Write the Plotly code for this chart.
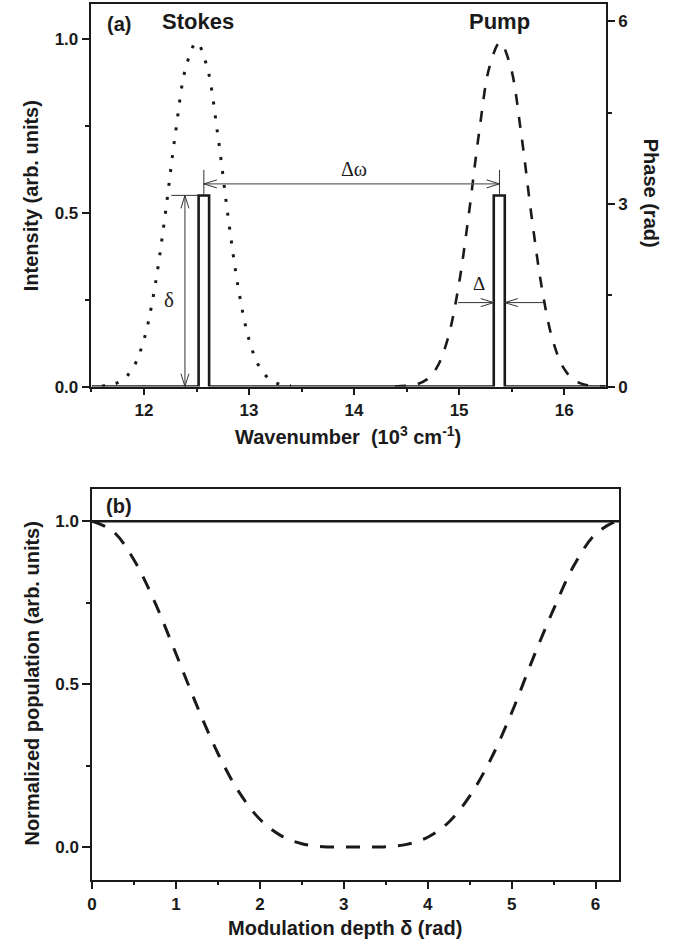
import plotly.graph_objects as go

# ---------------- data ----------------
# panel (a): spectral intensities (arb. units) vs wavenumber (10^3 cm^-1)
stokes_x = [11.6, 11.7, 11.8, 11.9, 12.0, 12.1, 12.2, 12.3, 12.4, 12.5,
            12.6, 12.7, 12.8, 12.9, 13.0, 13.1, 13.2, 13.3, 13.4]
stokes_y = [0.002, 0.006, 0.02, 0.056, 0.135, 0.28, 0.49, 0.73, 0.92, 0.99,
            0.92, 0.73, 0.49, 0.28, 0.135, 0.056, 0.02, 0.006, 0.002]

pump_x = [14.39, 14.49, 14.59, 14.69, 14.79, 14.89, 14.99, 15.09, 15.19, 15.29,
          15.39, 15.49, 15.59, 15.69, 15.79, 15.89, 15.99, 16.09, 16.19, 16.29, 16.39]
pump_y = [0.0, 0.002, 0.006, 0.02, 0.056, 0.135, 0.28, 0.49, 0.73, 0.92,
          0.99, 0.92, 0.73, 0.49, 0.28, 0.135, 0.056, 0.02, 0.006, 0.002, 0.0]

# phase mask (rad): two narrow windows of depth delta = pi
phase_x = [11.5, 12.52, 12.52, 12.62, 12.62, 15.33, 15.33, 15.435, 15.435, 16.4]
phase_y = [0.0, 0.0, 3.14, 3.14, 0.0, 0.0, 3.14, 3.14, 0.0, 0.0]

# panel (b): normalized population vs modulation depth
delta_x = [0.0, 0.25, 0.5, 0.75, 1.0, 1.25, 1.5, 1.75, 2.0, 2.25, 2.5, 2.75,
           3.0, 3.25, 3.5, 3.75, 4.0, 4.25, 4.5, 4.75, 5.0, 5.25, 5.5, 5.75,
           6.0, 6.25, 6.283]
pop_dashed = [1.0, 0.969, 0.881, 0.750, 0.593, 0.433, 0.287, 0.169, 0.085, 0.035,
              0.010, 0.001, 0.0, 0.0, 0.001, 0.008, 0.030, 0.076, 0.156, 0.269,
              0.412, 0.576, 0.730, 0.868, 0.961, 1.0, 1.0]
solid_x = [0.0, 6.283]
solid_y = [1.0, 1.0]

# tick labels
a_x_ticks = [12, 13, 14, 15, 16]
a_y_ticks = [0.0, 0.5, 1.0]
a_y_text = ["0.0", "0.5", "1.0"]
a_y2_ticks = [0, 3, 6]
b_x_ticks = [0, 1, 2, 3, 4, 5, 6]
b_y_ticks = [0.0, 0.5, 1.0]
b_y_text = ["0.0", "0.5", "1.0"]

# ---------------- styling ----------------
W, H = 681, 952
FONT = "Liberation Sans, Arial, Helvetica, sans-serif"
INK = "#1a1a1a"


def px(x):
    return x / W


def py(y):
    return 1 - y / H


fig = go.Figure()

fig.add_trace(go.Scatter(x=stokes_x, y=stokes_y, xaxis="x", yaxis="y", mode="lines",
                         line=dict(color=INK, width=3, dash="3px,11px", shape="spline"),
                         showlegend=False))
fig.add_trace(go.Scatter(x=pump_x, y=pump_y, xaxis="x", yaxis="y", mode="lines",
                         line=dict(color=INK, width=2.6, dash="11px,12px", shape="spline"),
                         showlegend=False))
fig.add_trace(go.Scatter(x=phase_x, y=phase_y, xaxis="x", yaxis="y2", mode="lines",
                         line=dict(color=INK, width=2.6), showlegend=False))
fig.add_trace(go.Scatter(x=solid_x, y=solid_y, xaxis="x2", yaxis="y3", mode="lines",
                         line=dict(color=INK, width=2.6), showlegend=False))
fig.add_trace(go.Scatter(x=delta_x, y=pop_dashed, xaxis="x2", yaxis="y3", mode="lines",
                         line=dict(color=INK, width=3, dash="14px,12px", shape="spline"),
                         showlegend=False))

tickfont = dict(family=FONT, size=17, color=INK, weight="bold")
base = dict(showline=True, linecolor=INK, linewidth=1.5, ticks="outside",
            tickcolor=INK, tickwidth=1.5, showgrid=False, zeroline=False,
            tickfont=tickfont)

A_DOM_X = [px(87.1), px(605.6)]
A_DOM_Y = [py(390.7), py(4.2)]
B_DOM_X = [px(87.7), px(618.9)]
B_DOM_Y = [py(888.9), py(493.8)]

fig.update_layout(
    width=W, height=H,
    margin=dict(l=0, r=0, t=0, b=0),
    paper_bgcolor="white", plot_bgcolor="white",
    font=dict(family=FONT, color=INK),
    showlegend=False,
    xaxis=dict(base, domain=A_DOM_X, range=[11.5, 16.4], anchor="y",
               tickmode="array", tickvals=a_x_ticks, ticklen=7, mirror=True,
               minor=dict(dtick=0.5, tick0=0, ticklen=4, ticks="outside",
                          tickcolor=INK, tickwidth=1.5)),
    yaxis=dict(base, domain=A_DOM_Y, range=[0, 1.1], anchor="x",
               tickmode="array", tickvals=a_y_ticks, ticktext=a_y_text, ticklen=8,
               minor=dict(dtick=0.25, tick0=0, ticklen=4.5, ticks="outside",
                          tickcolor=INK, tickwidth=1.5)),
    yaxis2=dict(base, overlaying="y", side="right", anchor="x", range=[0, 6.2832],
                tickmode="array", tickvals=a_y2_ticks, ticklen=7,
                minor=dict(dtick=1.5, tick0=0, ticklen=4, ticks="outside",
                           tickcolor=INK, tickwidth=1.5)),
    xaxis3=dict(overlaying="x", side="top", anchor="y", range=[11.5, 16.4],
                showline=False, showgrid=False, zeroline=False, ticks="outside",
                ticklen=3, tickwidth=1.2, tickcolor=INK, dtick=0.5, tick0=0,
                showticklabels=False),
    xaxis2=dict(base, domain=B_DOM_X, range=[0, 6.2832], anchor="y3",
                tickmode="array", tickvals=b_x_ticks, ticklen=8, mirror=True,
                minor=dict(dtick=0.5, tick0=0, ticklen=3.5, ticks="outside",
                           tickcolor=INK, tickwidth=1.5)),
    yaxis3=dict(base, domain=B_DOM_Y, range=[-0.1, 1.1], anchor="x2",
                tickmode="array", tickvals=b_y_ticks, ticktext=b_y_text, ticklen=8,
                mirror=True,
                minor=dict(dtick=0.25, tick0=0, ticklen=4.5, ticks="outside",
                           tickcolor=INK, tickwidth=1.5)),
    xaxis4=dict(overlaying="x2", side="top", anchor="y3", range=[0, 6.2832],
                showline=False, showgrid=False, zeroline=False, ticks="outside",
                ticklen=3, tickwidth=1.2, tickcolor=INK, dtick=0.5, tick0=0,
                showticklabels=False),
    yaxis4=dict(overlaying="y3", side="right", anchor="x2", range=[-0.1, 1.1],
                showline=False, showgrid=False, zeroline=False, ticks="outside",
                ticklen=3, tickwidth=1.2, tickcolor=INK, dtick=0.5, tick0=0,
                showticklabels=False),
)

# ---------------- text ----------------
def label(x, y, text, size, angle=0, bold=True, family=FONT, **kw):
    fig.add_annotation(x=x, y=y, text=text, showarrow=False, textangle=angle,
                       font=dict(family=family, size=size, color=INK,
                                 weight="bold" if bold else "normal"),
                       xanchor="center", yanchor="middle", **kw)


label(px(27), py(197.5), "Intensity (arb. units)", 20, -90, xref="paper", yref="paper")
label(px(651), py(195), "Phase (rad)", 20, 90, xref="paper", yref="paper")
label(px(346), py(440), "Wavenumber  (10<sup>3</sup> cm<sup>-1</sup>)", 20,
      xref="paper", yref="paper")
label(px(27), py(691), "Normalized population (arb. units)", 20, -90,
      xref="paper", yref="paper")
label(px(343), py(938), "Modulation depth δ (rad)", 20, xref="paper", yref="paper")
label(px(115), py(24), "(a)", 20, xref="paper", yref="paper")
label(px(194), py(22), "Stokes", 22, xref="paper", yref="paper")
label(px(498), py(22), "Pump", 22, xref="paper", yref="paper")
label(px(115), py(511), "(b)", 20, xref="paper", yref="paper")

GREEK = "Liberation Serif, Times New Roman, serif"
label(14.0, 3.58, "Δω", 20, bold=False, family=GREEK, xref="x", yref="y2")
label(12.236, 1.42, "δ", 21, bold=False, family=GREEK, xref="x", yref="y2")
label(15.19, 1.69, "Δ", 19, bold=False, family=GREEK, xref="x", yref="y2")

# ---------------- arrows ----------------
ARROW = "#333333"


def seg(x0, y0, x1, y1, color=ARROW, width=1):
    fig.add_shape(type="line", xref="x", yref="y2", x0=x0, y0=y0, x1=x1, y1=y1,
                  line=dict(color=color, width=width))


def head(x, y, direction):
    paths = {
        "left": "M 13,4 L 0,0 L 13,-4",
        "right": "M -13,4 L 0,0 L -13,-4",
        "up": "M -4,-13 L 0,0 L 4,-13",
        "down": "M -4,13 L 0,0 L 4,13",
    }
    fig.add_shape(type="path", xref="x", yref="y2", xsizemode="pixel",
                  ysizemode="pixel", xanchor=x, yanchor=y, path=paths[direction],
                  line=dict(color=ARROW, width=1))


PI = 3.1416
# delta-omega between the two windows
seg(12.57, 3.33, 15.385, 3.33, color="#666666", width=1.2)
head(12.57, 3.33, "left")
head(15.385, 3.33, "right")
seg(12.57, PI, 12.57, 3.56)
seg(15.385, PI, 15.385, 3.56)
# modulation depth delta
seg(12.39, 0, 12.39, PI)
head(12.39, PI, "up")
head(12.39, 0, "down")
seg(12.26, PI, 12.52, PI)
# window width Delta
seg(14.99, 1.38, 15.33, 1.38)
head(15.33, 1.38, "right")
seg(15.80, 1.38, 15.435, 1.38)
head(15.435, 1.38, "left")

fig.write_html("out.html")
